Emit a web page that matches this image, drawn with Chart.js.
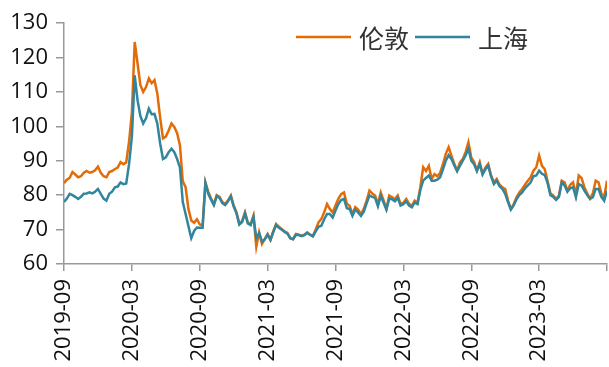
<!DOCTYPE html>
<html>
<head>
<meta charset="utf-8">
<script src="https://cdn.jsdelivr.net/npm/chart.js@4/dist/chart.umd.min.js"></script>
<style>
  html, body { margin: 0; padding: 0; background: #fff; }
  #wrap { width: 609px; height: 367px; }
</style>
</head>
<body>
<div id="wrap"><canvas id="chart"></canvas></div>
<script>
// one point every quarter month, starting 2019-09
const stepMonths = 0.25;
const tickLabels = ['2019-09', '2020-03', '2020-09', '2021-03', '2021-09', '2022-03', '2022-09', '2023-03'];
const seriesNames = ['伦敦', '上海'];

const london = [
  83.5, 84.5, 85, 86.7,  86, 85.2, 85.5, 86.5,  87, 86.5, 86.7, 87.2,  88.3, 86.5, 85.5, 85.2,
  86.7, 87, 87.6, 88,  89.6, 89, 89.5, 95.5,  104, 124.5, 118.3, 112,  110, 111.4, 113.9, 112.5,
  113.4, 109.5, 102.5, 96.5,  97, 98.8, 100.8, 99.8,  98, 94.5, 84, 82.3,  76, 72.6, 72, 73,
  71.5, 71.1, 83.7, 81,  79, 77.4, 80, 79.5,  78, 77.4, 78.5, 79.9,  77, 75, 71.6, 72.5,
  75, 72, 71.5, 74,  65, 69.2, 65.8, 67.2,  68.7, 67, 69.5, 71.6,  70.8, 70.1, 69.5, 69,
  67.5, 67.2, 68.7, 68.5,  68.2, 68.5, 69.2, 68.5,  68.2, 70, 72.1, 73.1,  75, 77.4, 76, 75,
  77, 78.9, 80.3, 80.8,  77.5, 76.9, 74.5, 76.5,  75.8, 74.5, 76, 78.4,  81.3, 80.5, 79.9, 77.4,
  80.8, 78.5, 76, 79.9,  79.4, 78.8, 79.9, 77.4,  77.8, 78.9, 77.5, 76.9,  78.4, 77.8, 82.3, 88.1,
  87, 88.5, 84.7, 86.1,  85.5, 86.5, 89, 92,  93.9, 91.5, 89.1, 87.1,  89.5, 90.5, 92.5, 95.4,
  91, 89.6, 87.2, 89.6,  86.2, 88, 89.1, 85.7,  83.7, 84.7, 83, 82.3,  81.8, 78.4, 76, 77.4,
  79.4, 80.8, 81.8, 83,  84.2, 85.2, 87.1, 88.1,  91.5, 88.5, 87.5, 84,  80.5, 79.9, 78.9, 79.9,
  84.2, 83.7, 81.3, 83,  83.7, 80, 85.7, 85,  82.3, 80.5, 79, 80.5,  84.2, 83.7, 80.5, 79.4,
  84.2
];

const shanghai = [
  78, 79, 80.4, 80,  79.5, 78.9, 79.5, 80.4,  80.5, 80.8, 80.5, 81,  81.8, 80.4, 79, 78.4,
  80.4, 81, 82.3, 82.5,  83.7, 83.2, 83.4, 89,  97, 114.8, 107.6, 103,  100.8, 102.3, 105.1, 103.5,
  103.6, 100.8, 95, 90.5,  91, 92.5, 93.5, 92.5,  90.5, 88, 78, 74.5,  71, 67.5, 69.6, 70.6,
  70.5, 70.5, 83.5, 80.4,  78.7, 77.1, 79.7, 79.2,  77.7, 77.1, 78.2, 79.6,  76.7, 74.7, 71.5, 72.2,
  74.7, 71.8, 71.3, 73.8,  67.5, 69, 66.5, 67.2,  68.5, 67, 69.3, 71.3,  70.5, 70, 69.3, 68.8,
  67.5, 67.2, 68.5, 68.4,  68.1, 68.4, 69, 68.5,  68, 69.5, 70.8, 71.1,  73, 74.5, 74.5, 73.5,
  75.5, 77.4, 78.6, 78.9,  76.2, 76, 74, 75.8,  75, 74, 75.2, 77.6,  79.9, 79.5, 79.2, 76.8,
  79.8, 77.8, 75.8, 79,  78.8, 78.2, 79.2, 77,  77.4, 78.2, 77, 76.5,  77.9, 77.4, 81.5, 84.2,
  85, 85.7, 84.2, 84.2,  84.5, 85.2, 87.5, 90,  91.6, 90.5, 88.6, 87,  88.5, 90, 91.5, 93.5,
  90, 89, 87, 89,  86, 87.5, 88.5, 85.5,  83.2, 84.2, 82.6, 81.8,  80.4, 78, 75.8, 77,
  78.8, 80, 80.8, 82,  82.8, 83.7, 85.5, 85.7,  87.1, 86.2, 85.8, 83.5,  80, 79.5, 78.6, 79.5,
  83.7, 82.8, 81, 82,  82.3, 79.4, 83.2, 82.8,  81.3, 80, 78.9, 79.4,  81.8, 81.8, 79.5, 78.4,
  81.3
];

const colors = ['#E36C09', '#31859C'];
const font = { family: '"Open Sans", "DejaVu Sans", sans-serif', size: 22 };

const toPoints = arr => arr.map((v, i) => ({ x: i * stepMonths, y: v }));

// legend drawn inside the plot, upper right
const legendInPlot = {
  id: 'legendInPlot',
  afterDraw(chart) {
    const ctx = chart.ctx;
    const items = [
      { x: 296, text: seriesNames[0], color: colors[0] },
      { x: 415, text: seriesNames[1], color: colors[1] },
    ];
    ctx.save();
    ctx.font = '25px "Noto Sans CJK SC", sans-serif';
    ctx.textBaseline = 'middle';
    items.forEach(it => {
      ctx.strokeStyle = it.color;
      ctx.lineWidth = 2.5;
      ctx.beginPath();
      ctx.moveTo(it.x, 37);
      ctx.lineTo(it.x + 55, 37);
      ctx.stroke();
      ctx.fillStyle = '#333';
      ctx.fillText(it.text, it.x + 63, 38);
    });
    ctx.restore();
  }
};

new Chart(document.getElementById('chart'), {
  type: 'line',
  data: {
    datasets: [
      {
        label: seriesNames[0],
        data: toPoints(london),
        borderColor: colors[0],
        borderWidth: 2.5,
        pointRadius: 0,
        tension: 0,
        order: 2,
      },
      {
        label: seriesNames[1],
        data: toPoints(shanghai),
        borderColor: colors[1],
        borderWidth: 2.5,
        pointRadius: 0,
        tension: 0,
        order: 1,
      },
    ]
  },
  options: {
    responsive: true,
    maintainAspectRatio: false,
    animation: false,
    layout: { padding: { top: 23, right: 2, left: 0, bottom: 0 } },
    plugins: {
      legend: { display: false },
      tooltip: { enabled: false },
    },
    scales: {
      x: {
        type: 'linear',
        min: 0,
        max: 48,
        afterFit: s => { s.height = 103; s.paddingLeft = 0; s.paddingRight = 0; },
        ticks: {
          stepSize: 6,
          autoSkip: false,
          minRotation: 90,
          maxRotation: 90,
          padding: 8,
          color: '#111',
          font,
          callback: v => tickLabels[v / 6] ?? '',
        },
        grid: { drawOnChartArea: false, tickLength: 7, color: '#999', lineWidth: 1.5 },
        border: { color: '#999', width: 1.5 },
      },
      y: {
        min: 60,
        max: 130,
        afterFit: s => { s.width = 64; s.paddingTop = 0; s.paddingBottom = 0; },
        ticks: { stepSize: 10, padding: 8, color: '#111', font },
        grid: { drawOnChartArea: false, tickLength: 8, color: '#999', lineWidth: 1.5 },
        border: { color: '#999', width: 1.5 },
      }
    }
  },
  plugins: [legendInPlot]
});
</script>
</body>
</html>
